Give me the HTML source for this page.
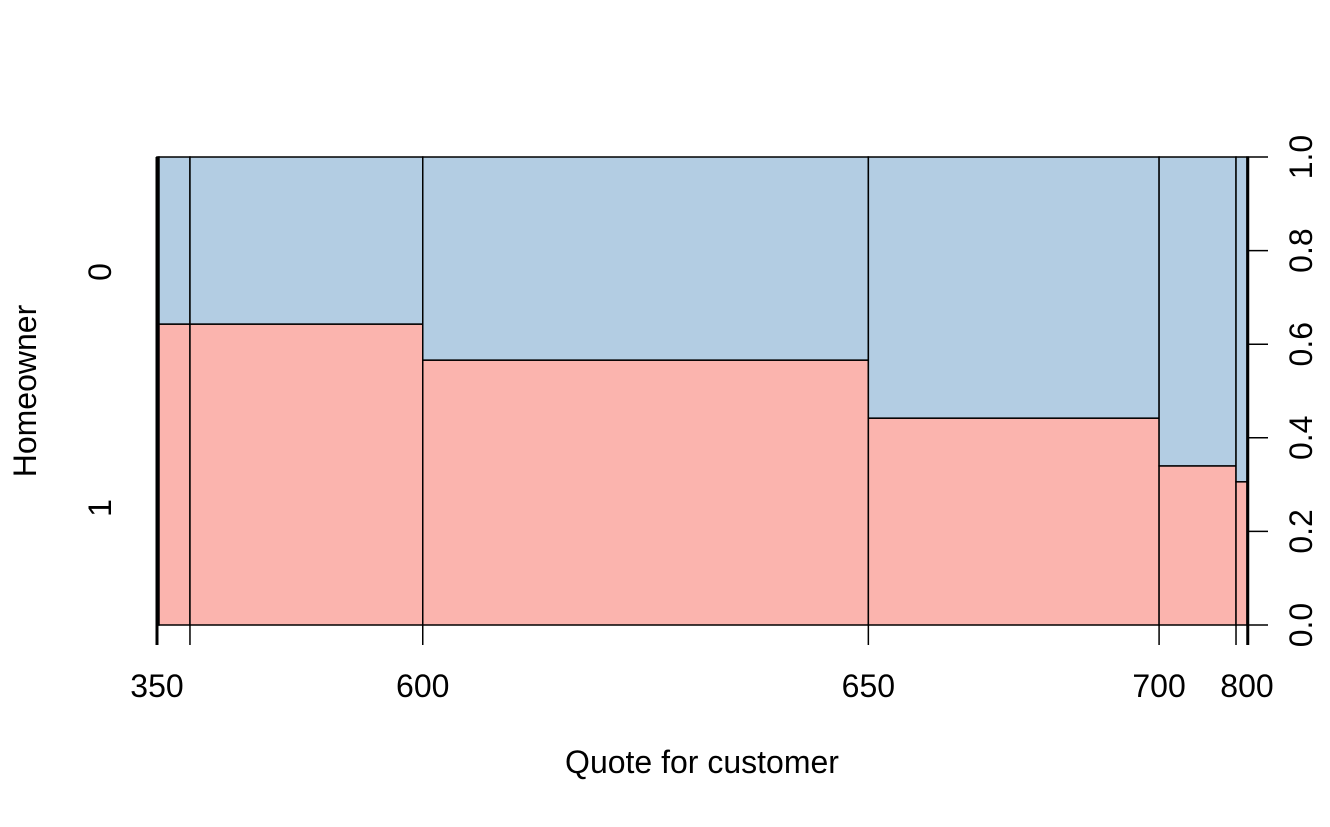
<!DOCTYPE html>
<html><head><meta charset="utf-8"><style>
html,body{margin:0;padding:0;background:#fff}
text{font-family:"Liberation Sans",Arial,sans-serif;fill:#000}
</style></head><body>
<svg id="chart" width="1330" height="822" xmlns="http://www.w3.org/2000/svg"></svg>
<script>
const widths = [2, 31, 233, 446, 291, 77, 11, 1];
const pinkFrac = [0.643, 0.643, 0.643, 0.566, 0.442, 0.340, 0.306, 0.306];
const xTickLabels = ["350", "", "600", "650", "700", "", "800"];
const yTicks = [0, 0.2, 0.4, 0.6, 0.8, 1.0];
const yTickLabels = ["0.0", "0.2", "0.4", "0.6", "0.8", "1.0"];

const svg = document.getElementById('chart');
const NS = 'http://www.w3.org/2000/svg';
const X0 = 157, X1 = 1248, Y0 = 625, Y1 = 157;
const total = widths.reduce((a, b) => a + b, 0);
const xs = v => X0 + (X1 - X0) * v / total;
const ys = f => Y0 - (Y0 - Y1) * f;
function mk(tag, attrs, txt) {
  const e = document.createElementNS(NS, tag);
  for (const k in attrs) e.setAttribute(k, attrs[k]);
  if (txt !== undefined) e.textContent = txt;
  svg.appendChild(e);
  return e;
}
let cum = 0;
const edges = [0];
widths.forEach((w, i) => {
  const xa = xs(cum), xb = xs(cum + w);
  const yp = ys(pinkFrac[i]);
  const r1 = mk('rect', {x: xa, y: yp, width: xb - xa, height: Y0 - yp, fill: '#FBB4AE', stroke: '#000', 'stroke-width': 1.5});
  
  
  const r2 = mk('rect', {x: xa, y: Y1, width: xb - xa, height: yp - Y1, fill: '#B3CDE3', stroke: '#000', 'stroke-width': 1.5});
  
  
  cum += w;
  edges.push(cum);
});
const tickEdges = [edges[0], edges[2], edges[3], edges[4], edges[5], edges[6], edges[7]];
tickEdges.forEach((e, i) => {
  const x = xs(e);
  const t = mk('line', {x1: x, x2: x, y1: Y0, y2: Y0 + 20, stroke: '#000', 'stroke-width': 1.5});
  
  
  if (xTickLabels[i]) {
    const l = mk('text', {x: x, y: 697, 'font-size': 32, 'text-anchor': 'middle'}, xTickLabels[i]);
    
    
  }
});
mk('line', {x1: X0, x2: X0, y1: Y1, y2: Y0 + 20, stroke: '#000', 'stroke-width': 3});
mk('line', {x1: X1, x2: X1, y1: Y1, y2: Y0 + 20, stroke: '#000', 'stroke-width': 2.5});
mk('line', {x1: 1248, x2: 1248, y1: Y1, y2: Y0, stroke: '#000', 'stroke-width': 1.5});
yTicks.forEach((v, i) => {
  const y = ys(v);
  const t = mk('line', {x1: 1248, x2: 1268, y1: y, y2: y, stroke: '#000', 'stroke-width': 1.5});
  
  
  const l = mk('text', {x: 1312, y: y, 'font-size': 32, 'text-anchor': 'middle', transform: `rotate(-90 1312 ${y})`}, yTickLabels[i]);
  
  
});
const c0 = mk('text', {x: 111, y: 272, 'font-size': 32, 'text-anchor': 'middle', transform: 'rotate(-90 111 272)'}, '0');


const c1 = mk('text', {x: 111, y: 508, 'font-size': 32, 'text-anchor': 'middle', transform: 'rotate(-90 111 508)'}, '1');


const yt = mk('text', {x: 36, y: 391, 'font-size': 32, 'text-anchor': 'middle', transform: 'rotate(-90 36 391)'}, 'Homeowner');


const xt = mk('text', {x: 702, y: 773, 'font-size': 32, 'text-anchor': 'middle'}, 'Quote for customer');


</script>
</body></html>
